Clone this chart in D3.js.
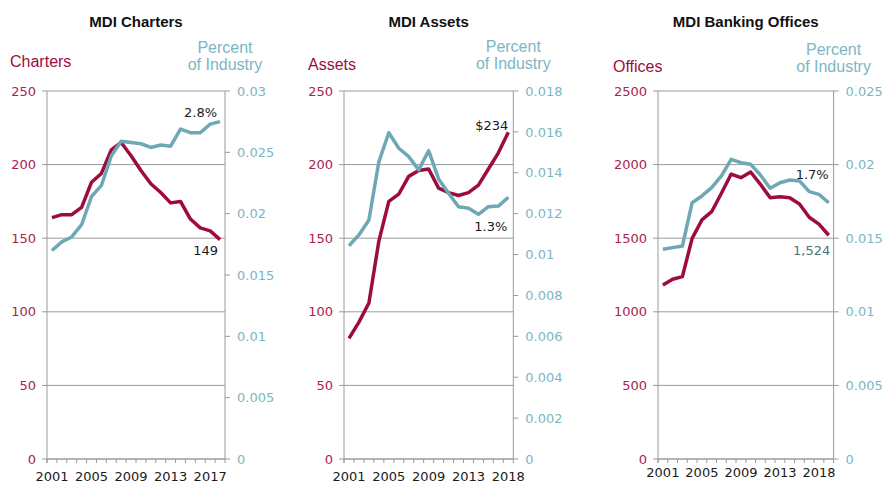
<!DOCTYPE html>
<html>
<head>
<meta charset="utf-8">
<script src="https://cdn.jsdelivr.net/npm/d3@7"></script>
<style>
body { margin: 0; background: #fff; }
svg text { font-family: "DejaVu Sans", sans-serif; }
.title { font-family: "Liberation Sans", Arial, sans-serif; font-weight: bold; font-size: 15px; fill: #111; }
.axtitle { font-family: "Liberation Sans", Arial, sans-serif; font-size: 16px; }
</style>
</head>
<body>
<svg id="chart" width="883" height="483"></svg>
<script>
// chart data
const charterYears = ["2001","2002","2003","2004","2005","2006","2007","2008","2009","2010","2011","2012","2013","2014","2015","2016","2017","2018"];
const charterCount = [164,166,166,171,188,194,210,215,206,196,187,181,174,175,163,157,155,149];
const charterShare = [0.0170,0.0177,0.0181,0.0191,0.0214,0.0223,0.0247,0.0259,0.0258,0.0257,0.0254,0.0256,0.0255,0.0269,0.0266,0.0266,0.0273,0.0275];

const assetYears = ["2001","2002","2003","2004","2005","2006","2007","2008","2009","2010","2011","2012","2013","2014","2015","2016","2018"];
const assetValue = [82,93,106,148,175,180,192,196,197,184,181,179,181,186,197,208,222];
const assetShare = [0.01043,0.01096,0.01169,0.01454,0.01596,0.0152,0.01479,0.01414,0.01508,0.0137,0.0130,0.01234,0.01226,0.01197,0.01234,0.01237,0.0128];

const officeYears = ["2001","2002","2003","2004","2005","2006","2007","2008","2009","2010","2011","2012","2013","2014","2015","2016","2017","2018"];
const officeCount = [1182,1221,1239,1499,1624,1680,1805,1936,1911,1950,1866,1775,1782,1775,1732,1642,1596,1520];
const officeShare = [0.01425,0.01436,0.01447,0.01741,0.01787,0.01843,0.01923,0.02036,0.02013,0.02002,0.01929,0.01839,0.01877,0.01895,0.01889,0.01816,0.01798,0.01741];

// tick labels
const charterLeftTicks = [0,50,100,150,200,250];
const charterRightTicks = [0,0.005,0.01,0.015,0.02,0.025,0.03];
const assetLeftTicks = [0,50,100,150,200,250];
const assetRightTicks = [0,0.002,0.004,0.006,0.008,0.01,0.012,0.014,0.016,0.018];
const officeLeftTicks = [0,500,1000,1500,2000,2500];
const officeRightTicks = [0,0.005,0.01,0.015,0.02,0.025];
const yearTickIndex = [0,4,8,12,16];
const charterYearLabels = ["2001","2005","2009","2013","2017"];
const assetYearLabels = ["2001","2005","2009","2013","2018"];
const officeYearLabels = ["2001","2005","2009","2013","2018"];

const crimson = "#9c0c3f";
const teal = "#6ea8b4";
const leftText = "#a8244f";
const rightText = "#7cb6c2";
const gridCol = "#9a9a9a";

const svg = d3.select("#chart");

const panels = [
  {title:"MDI Charters", leftTitle:"Charters", years:charterYears, left:charterCount, right:charterShare,
   leftTicks:charterLeftTicks, rightTicks:charterRightTicks, yearLabels:charterYearLabels,
   x0:47, x1:225, leftTitleX:10, leftTitleY:67, pctY:53, xLabelY:481,
   notes:[{text:"2.8%", s:"right", dx:-3, dy:-4.5, c:"#1a1a1a"},
          {text:"149", s:"left", dx:-2, dy:15.5, c:"#1a1a1a"}]},
  {title:"MDI Assets", leftTitle:"Assets", years:assetYears, left:assetValue, right:assetShare,
   leftTicks:assetLeftTicks, rightTicks:assetRightTicks, yearLabels:assetYearLabels,
   x0:344, x1:513.3, leftTitleX:308, leftTitleY:70, pctY:52, xLabelY:481,
   notes:[{text:"$234", s:"left", dx:0, dy:-2, c:"#1a1a1a"},
          {text:"1.3%", s:"right", dx:-1, dy:33.7, c:"#1a1a1a"}]},
  {title:"MDI Banking Offices", leftTitle:"Offices", years:officeYears, left:officeCount, right:officeShare,
   leftTicks:officeLeftTicks, rightTicks:officeRightTicks, yearLabels:officeYearLabels,
   x0:658, x1:833.6, leftTitleX:613, leftTitleY:72, pctY:55, xLabelY:477,
   notes:[{text:"1.7%", s:"right", dx:0, dy:-23.7, c:"#1a1a1a"},
          {text:"1,524", s:"left", dx:1.5, dy:19.7, c:"#4a7373"}]}
];

const plotTop = 91, plotBottom = 459;

panels.forEach(p => {
  const g = svg.append("g");
  const x = d3.scaleBand().domain(p.years).range([p.x0, p.x1]).padding(0);
  const yL = d3.scaleLinear().domain([0, d3.max(p.leftTicks)]).range([plotBottom, plotTop]);
  const yR = d3.scaleLinear().domain([0, d3.max(p.rightTicks)]).range([plotBottom, plotTop]);
  const cx = d => x(d) + x.bandwidth() / 2;

  // gridlines + left ticks
  g.selectAll(".grid").data(p.leftTicks).enter().append("line")
    .attr("x1", p.x0 - 5).attr("x2", p.x1)
    .attr("y1", d => yL(d)).attr("y2", d => yL(d))
    .attr("stroke", gridCol).attr("stroke-width", 1);
  g.selectAll(".ltxt").data(p.leftTicks).enter().append("text")
    .attr("x", p.x0 - 11).attr("y", d => yL(d)).attr("dy", "0.36em")
    .attr("text-anchor", "end").attr("font-size", 13).attr("fill", leftText)
    .text(d => d);

  // right ticks
  g.selectAll(".rtick").data(p.rightTicks).enter().append("line")
    .attr("x1", p.x1).attr("x2", p.x1 + 5)
    .attr("y1", d => yR(d)).attr("y2", d => yR(d))
    .attr("stroke", gridCol);
  g.selectAll(".rtxt").data(p.rightTicks).enter().append("text")
    .attr("x", p.x1 + 12).attr("y", d => yR(d)).attr("dy", "0.36em")
    .attr("font-size", 13).attr("fill", rightText)
    .text(d => d3.format("~f")(+d.toFixed(3)));

  // axis lines
  [p.x0, p.x1].forEach(ax => {
    g.append("line").attr("x1", ax).attr("x2", ax).attr("y1", plotTop).attr("y2", plotBottom + 4)
      .attr("stroke", gridCol);
  });
  g.append("line").attr("x1", p.x0).attr("x2", p.x1).attr("y1", plotBottom).attr("y2", plotBottom)
    .attr("stroke", gridCol);
  g.selectAll(".xtick").data(p.years).enter().append("line")
    .attr("x1", d => x(d)).attr("x2", d => x(d))
    .attr("y1", plotBottom).attr("y2", plotBottom + 4).attr("stroke", gridCol);

  // year labels
  g.selectAll(".xtxt").data(yearTickIndex).enter().append("text")
    .attr("x", i => cx(p.years[i])).attr("y", p.xLabelY)
    .attr("text-anchor", "middle").attr("font-size", 13).attr("fill", "#1a1a1a")
    .text((i, k) => p.yearLabels[k]);

  // lines
  const lineL = d3.line().x((d, i) => cx(p.years[i])).y(d => yL(d));
  const lineR = d3.line().x((d, i) => cx(p.years[i])).y(d => yR(d));
  g.append("path").attr("d", lineL(p.left)).attr("fill", "none")
    .attr("stroke", crimson).attr("stroke-width", 3.5).attr("stroke-linejoin", "round");
  g.append("path").attr("d", lineR(p.right)).attr("fill", "none")
    .attr("stroke", teal).attr("stroke-width", 3.5).attr("stroke-linejoin", "round");

  // end labels
  const last = p.years.length - 1;
  p.notes.forEach(n => {
    const yy = n.s === "left" ? yL(p.left[last]) : yR(p.right[last]);
    g.append("text").attr("x", cx(p.years[last]) + n.dx).attr("y", yy + n.dy)
      .attr("text-anchor", "end").attr("font-size", 13).attr("fill", n.c)
      .text(n.text);
  });

  // titles
  g.append("text").attr("class", "title")
    .attr("x", (p.x0 + p.x1) / 2).attr("y", 26.5).attr("text-anchor", "middle")
    .text(p.title);
  g.append("text").attr("class", "axtitle").attr("fill", crimson)
    .attr("x", p.leftTitleX).attr("y", p.leftTitleY).text(p.leftTitle);
  g.append("text").attr("class", "axtitle").attr("fill", rightText)
    .attr("x", p.x1).attr("y", p.pctY).attr("text-anchor", "middle").text("Percent");
  g.append("text").attr("class", "axtitle").attr("fill", rightText)
    .attr("x", p.x1).attr("y", p.pctY + 17).attr("text-anchor", "middle").text("of Industry");
});
</script>
</body>
</html>
